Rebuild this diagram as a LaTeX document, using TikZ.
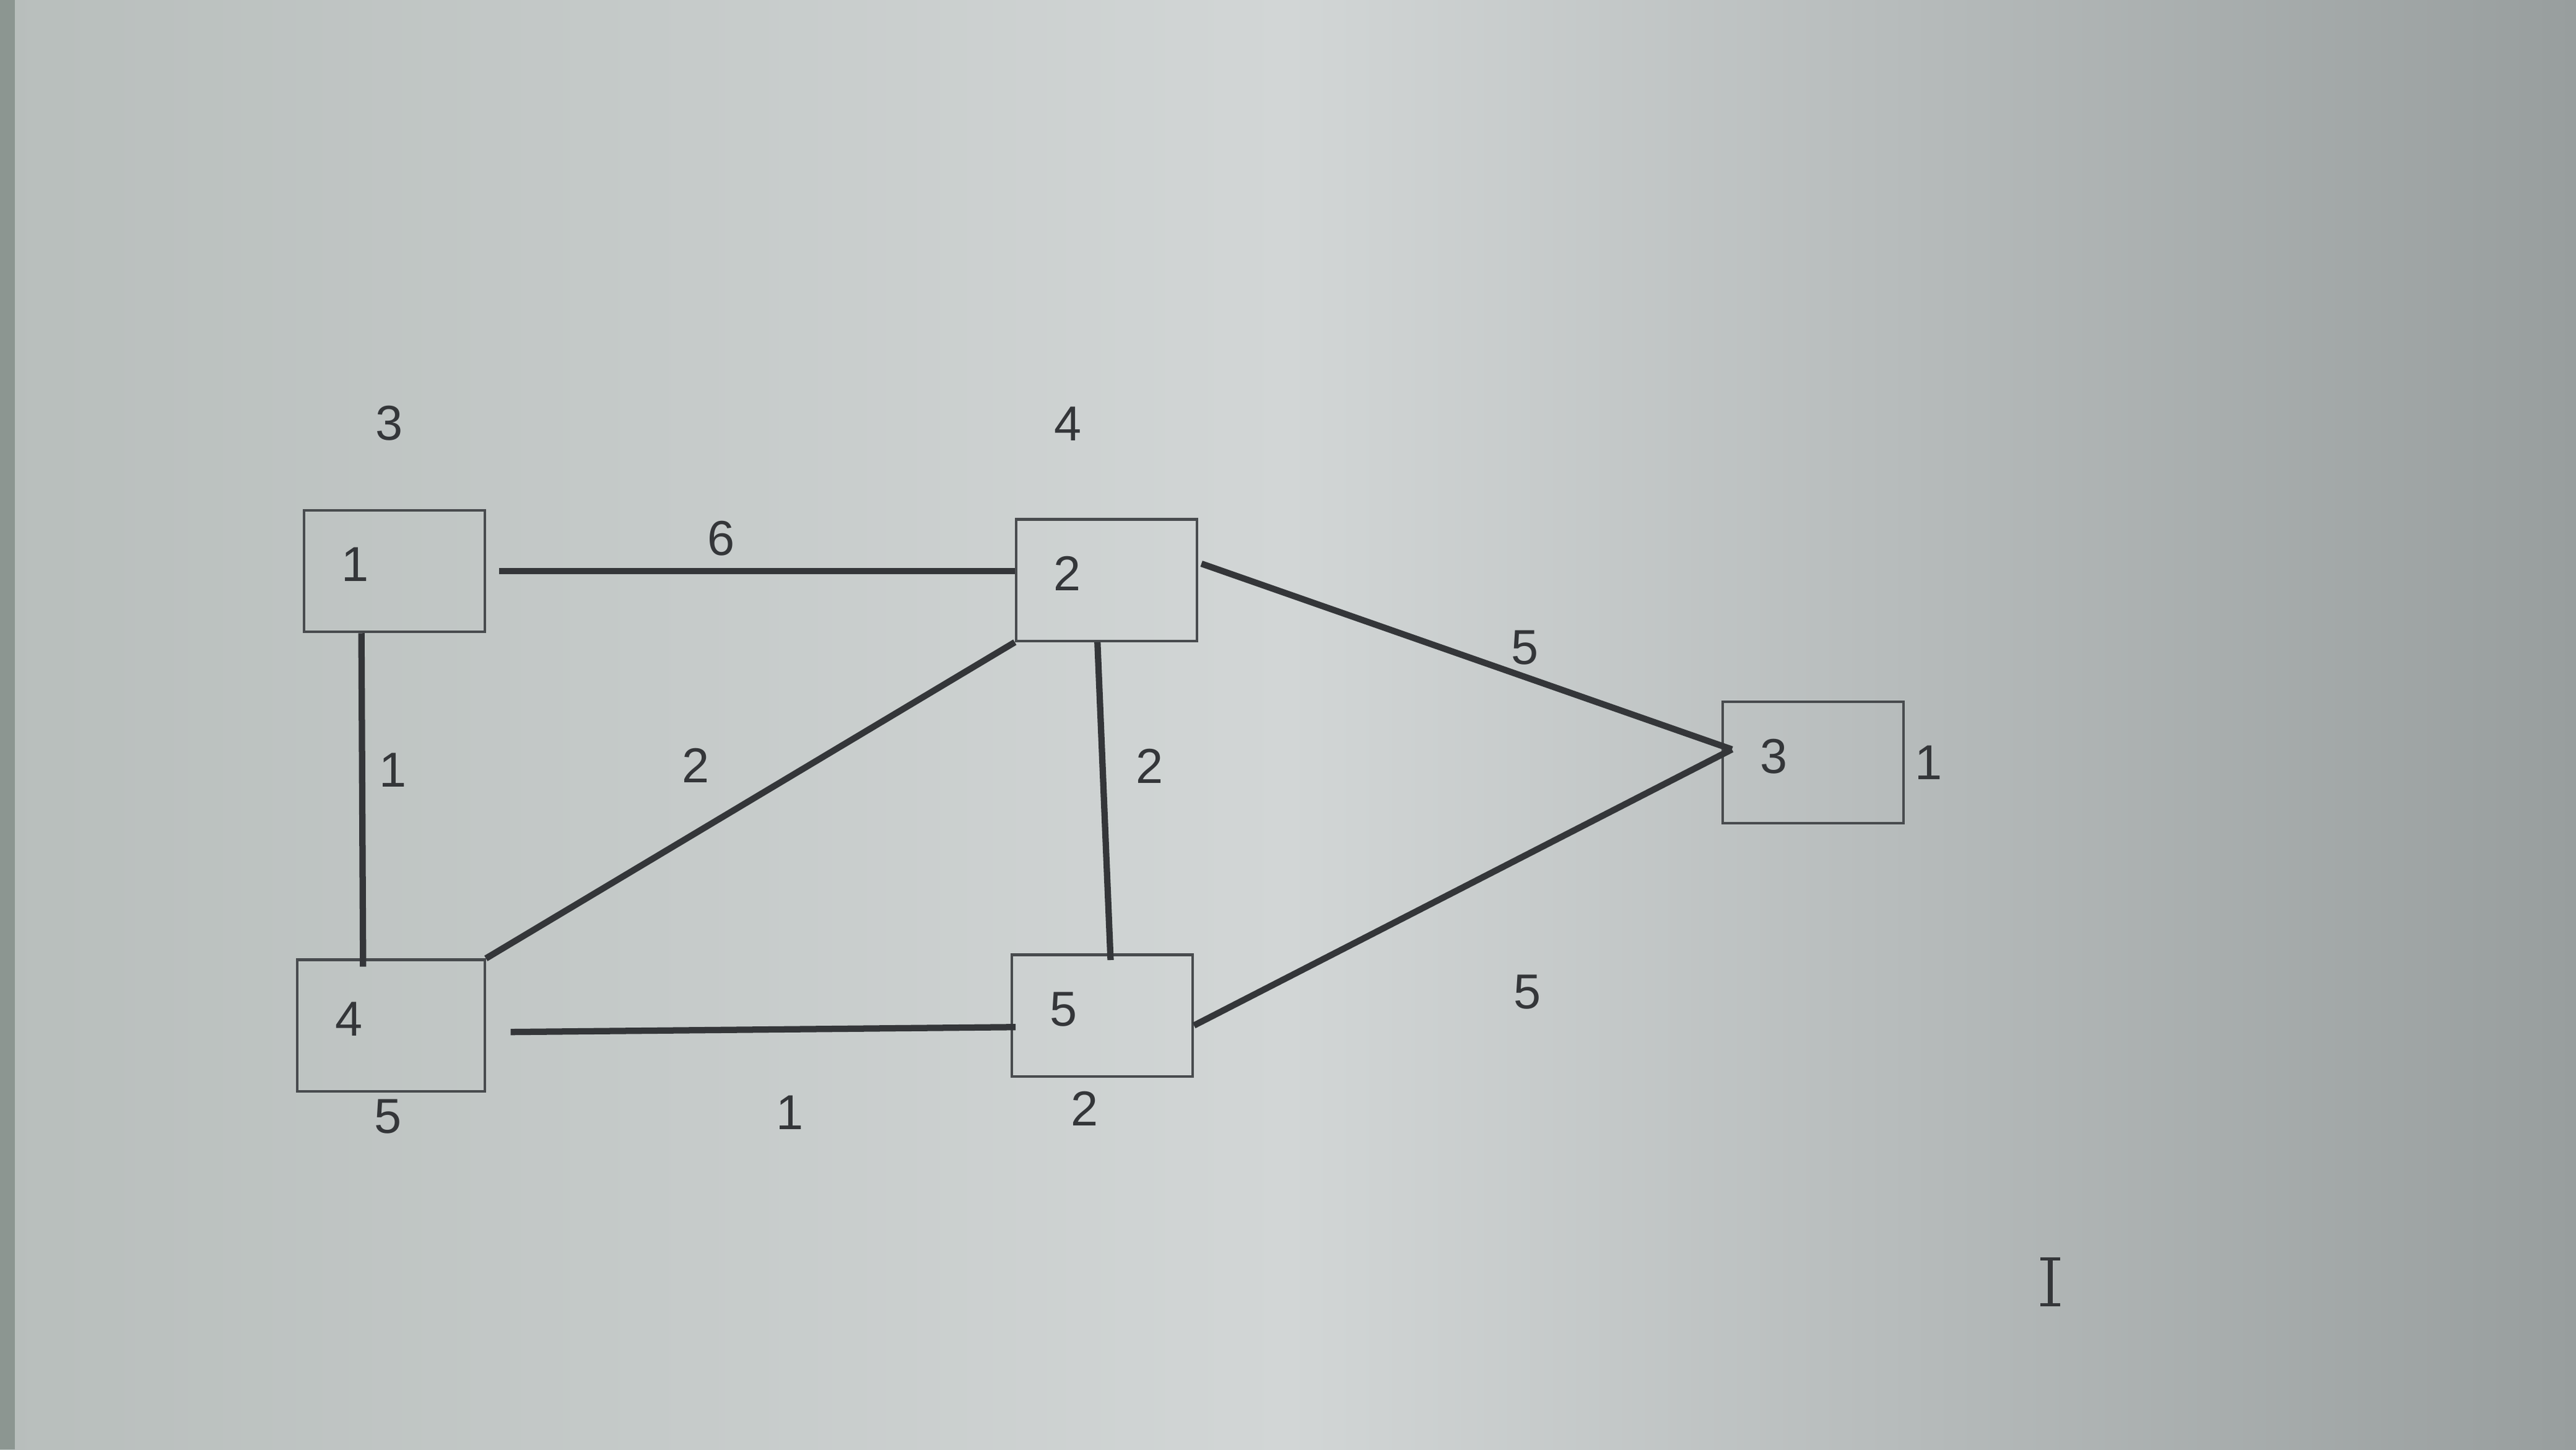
\documentclass[tikz,border=0pt]{standalone}
\usepackage{fontspec}
\setmainfont{Liberation Sans}
\usetikzlibrary{positioning}

\definecolor{screen}{RGB}{210,214,214}
\definecolor{screenleft}{RGB}{184,190,188}
\definecolor{screenright}{RGB}{152,158,158}
\definecolor{screenedge}{RGB}{140,150,145}
\definecolor{ink}{RGB}{52,54,57}
\definecolor{boxline}{RGB}{72,75,78}

\begin{document}
\begin{tikzpicture}[
    every node/.style={font=\fontsize{8.5}{10}\selectfont, text=ink},
    box/.style={draw=boxline, line width=0.45pt, text width=0.64cm, align=left,
        inner xsep=0.23cm, inner ysep=0pt, minimum height=0.74cm, text depth=0.08cm},
    edge/.style={draw=ink, line width=1.1pt},
    lbl/.style={inner sep=1pt}
]
    % screen background
    \shade[left color=screenleft, right color=screenright, middle color=screen] (0,0) rectangle (15.68,-8.82);
    \fill[screenedge] (0,0) rectangle (0.09,-8.82);
    \useasboundingbox (0,0) rectangle (15.68,-8.82);

    \node[box] (b1) at (2.40,-3.475) {1};
    \node[box] (b2) at (6.735,-3.53) {2};
    \node[box] (b3) at (11.035,-4.64) {3};
    \node[box, text width=0.68cm, minimum height=0.8cm] (b4) at (2.38,-6.24) {4};
    \node[box] (b5) at (6.71,-6.18) {5};
    \coordinate (b3in) at ([xshift=0.065cm,yshift=0.08cm]b3.west);

    \node[lbl, above=0.375cm of b1, xshift=-0.03cm] (n1) {3};
    \node[lbl, above=0.43cm of b2, xshift=-0.235cm] (n2) {4};
    \node[lbl, right=0.02cm of b3] (n3) {1};
    \node[lbl, below=0cm of b4, xshift=-0.02cm] (n4) {5};
    \node[lbl, below=0.04cm of b5, xshift=-0.11cm] (n5) {2};

    \draw[edge] ([xshift=0.08cm]b1.east) -- (b1.east -| b2.west) node[lbl, pos=0.43, above=0.04cm] (w12) {6};
    \draw[edge] ([xshift=-0.2cm]b1.south) -- ([xshift=-0.17cm,yshift=-0.05cm]b4.north) node[lbl, pos=0.41, right=0.05cm] (w14) {1};
    \draw[edge] (b2.south west) -- (b4.north east) node[lbl, pos=0.39, left=0.55cm] (w24) {2};
    \draw[edge] ([xshift=-0.055cm]b2.south) -- ([xshift=0.05cm,yshift=-0.04cm]b5.north) node[lbl, pos=0.39, right=0.15cm] (w25) {2};
    \draw[edge] ([xshift=0.02cm,yshift=0.1cm]b2.east) -- (b3in) node[lbl, pos=0.61, above=0.02cm] (w23) {5};
    \draw[edge] ([yshift=-0.06cm]b5.east) -- (b3in) node[lbl, pos=0.62, below=0.68cm] (w53) {5};
    \draw[edge] ([xshift=0.15cm,yshift=-0.04cm]b4.east) -- ([xshift=0.03cm,yshift=-0.07cm]b5.west) node[lbl, pos=0.553, below=0.35cm] (w45) {1};

    % text cursor
    \draw[ink, line width=0.5pt] (12.42,-7.66) -- (12.54,-7.66) (12.42,-7.94) -- (12.54,-7.94);
    \draw[ink, line width=0.8pt] (12.48,-7.66) -- (12.48,-7.94);
\end{tikzpicture}
\end{document}
